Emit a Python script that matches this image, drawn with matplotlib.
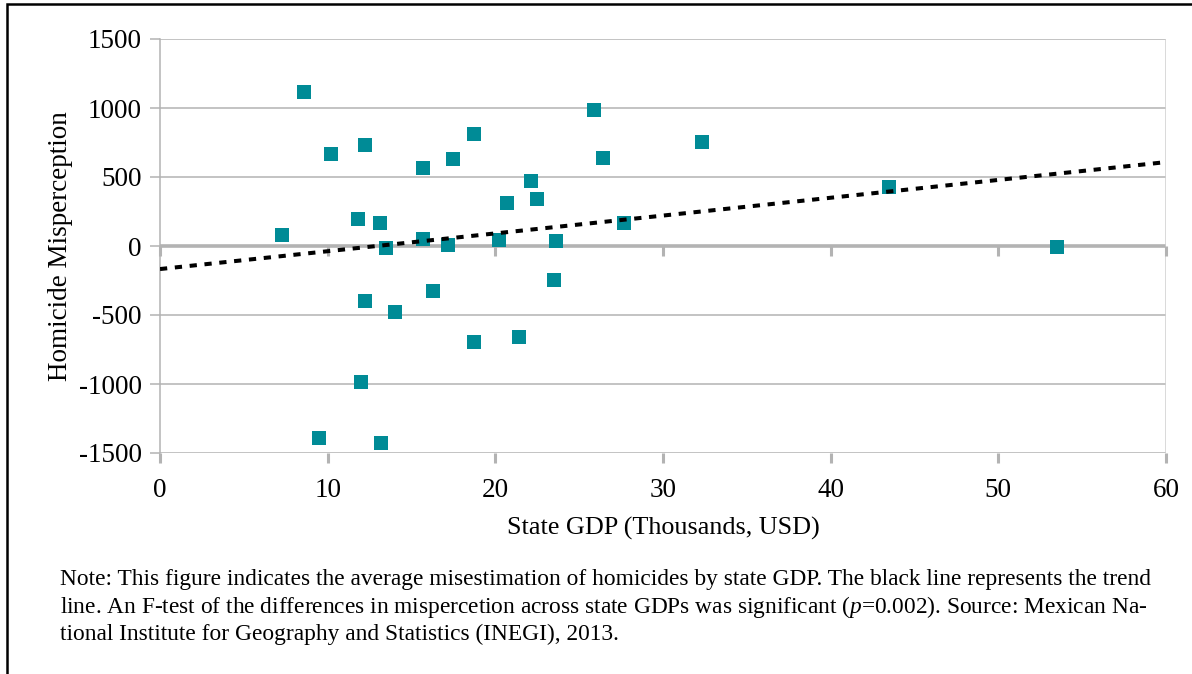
import matplotlib.pyplot as plt
from matplotlib.patches import Rectangle

# state GDP (thousands USD) and homicide misperception, one point per state
gdp = [7.3, 8.6, 9.5, 10.2, 11.8, 12.2, 12.2, 12.0, 13.1, 13.2, 13.5, 14.0,
       15.7, 15.7, 16.3, 17.5, 17.2, 18.7, 18.7, 20.2, 20.7, 21.4, 22.1, 22.5,
       23.6, 23.5, 25.9, 26.4, 27.7, 32.3, 43.5, 53.5]
misperception = [80, 1116, -1391, 667, 196, 735, -399, -986, 167, -1428, -14, -478,
                 565, 51, -326, 630, 7, 812, -696, 43, 312, -659, 471, 341,
                 36, -246, 986, 638, 167, 754, 428, -7]

# trend line end points
trend_x = [0, 60]
trend_y = [-167, 608]

x_ticks = [0, 10, 20, 30, 40, 50, 60]
y_ticks = [-1500, -1000, -500, 0, 500, 1000, 1500]

note = ("Note: This figure indicates the average misestimation of homicides by state GDP. "
        "The black line represents the trend\n"
        "line. An F-test of the differences in mispercetion across state GDPs was significant "
        "($\\it{p}$=0.002). Source: Mexican Na-\n"
        "tional Institute for Geography and Statistics (INEGI), 2013.")

plt.rcParams.update({
    "font.family": "Liberation Serif",
    "mathtext.fontset": "custom",
    "mathtext.it": "Liberation Serif:italic",
    "mathtext.rm": "Liberation Serif",
    "axes.unicode_minus": False,
})

W, H = 1192, 674
fig = plt.figure(figsize=(W / 100, H / 100), dpi=100)
ax = fig.add_axes([160 / W, 1 - 453 / H, (1166 - 160) / W, (453 - 39) / H])

GRID = "#b3b3b3"
ax.set_xlim(0, 60)
ax.set_ylim(-1500, 1500)
for yv in y_ticks:
    ax.axhline(yv, color=GRID, lw=1.1, zorder=1)
ax.axhline(0, color=GRID, lw=2.6, zorder=1)
ax.axvline(60, color="#d0d0d0", lw=1.1, zorder=1)

# tick marks hanging from the zero axis
for xv in x_ticks:
    ax.plot([xv, xv], [0, -70], color=GRID, lw=2.2, zorder=1, clip_on=False,
            solid_capstyle="butt")

ax.scatter(gdp, misperception, marker="s", s=105, color="#008b96", zorder=3,
           linewidths=0)
ax.plot(trend_x, trend_y, color="black", lw=2.9, linestyle=(0, (1.8, 1.9)),
        zorder=4)

for side in ["top", "right", "bottom"]:
    ax.spines[side].set_visible(False)
ax.spines["left"].set_color(GRID)
ax.spines["left"].set_linewidth(1.1)

ax.set_xticks(x_ticks)
ax.set_yticks(y_ticks)
ax.tick_params(axis="x", colors=GRID, length=7, width=2.2, pad=11, labelsize=19.5,
               labelcolor="black")
ax.tick_params(axis="y", colors=GRID, length=7, width=1.1, pad=6, labelsize=19.5,
               labelcolor="black")

ax.set_xlabel("State GDP (Thousands, USD)", fontsize=18.8, labelpad=10)
ax.set_ylabel("Homicide Misperception", fontsize=19.5, labelpad=4)

fig.text(60 / W, 1 - 569 / H, note, fontsize=16.8, va="top", ha="left",
         linespacing=1.22)

# page frame around the figure
fig.patches.append(Rectangle((7 / W, -0.1), 1.2, 1 - 3.5 / H + 0.1,
                             transform=fig.transFigure, fill=False,
                             edgecolor="black", lw=1.8))

fig.savefig("out.png", dpi=100)
